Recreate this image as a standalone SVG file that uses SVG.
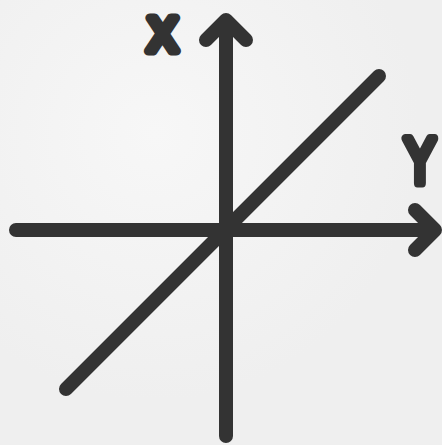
<svg xmlns="http://www.w3.org/2000/svg" width="442" height="445" viewBox="0 0 442 445">
  <defs>
    <style>
      .ln { fill: none; stroke: #333333; stroke-width: 14; stroke-linecap: round; stroke-linejoin: round; }
      .lbl { font-family: "DejaVu Sans", sans-serif; fill: #333333; stroke: #333333; stroke-width: 9; stroke-linejoin: round; stroke-linecap: round; text-anchor: middle; }
    </style>
    <radialGradient id="bg1" cx="0.35" cy="0.3" r="0.6">
      <stop offset="0" stop-color="#f7f7f7"/>
      <stop offset="1" stop-color="#efefef"/>
    </radialGradient>
  </defs>
  <rect x="0" y="0" width="442" height="445" fill="url(#bg1)"/>
  <g id="connectors">
    <path id="x-axis" class="ln" d="M226,436 L226,20 M206,40 L226,20 L246,40"/>
    <path id="y-axis" class="ln" d="M16,230 L435,230 M415,210 L435,230 L415,250"/>
    <path id="diagonal" class="ln" d="M66,389 L379,76"/>
  </g>
  <g id="label-x">
    <text class="lbl" x="162.5" y="50.5" font-size="45">X</text>
  </g>
  <g id="label-y">
    <text class="lbl" transform="translate(420,0) scale(0.8,1)" x="0" y="183.5" font-size="60">Y</text>
  </g>
</svg>
